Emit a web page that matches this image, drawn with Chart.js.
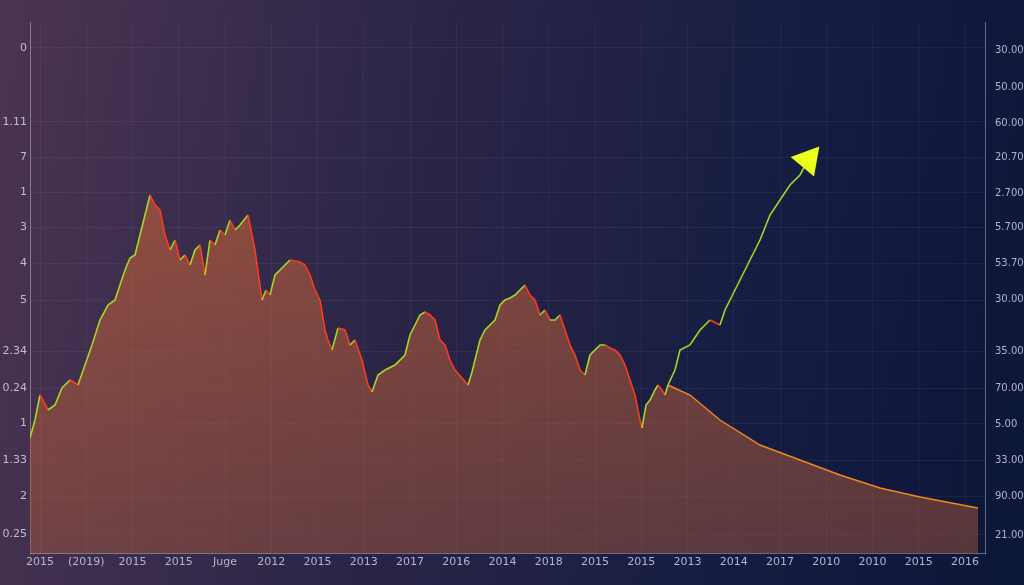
<!DOCTYPE html>
<html>
<head>
<meta charset="utf-8">
<script src="https://cdn.jsdelivr.net/npm/chart.js@4"></script>
<style>
  html, body { margin: 0; padding: 0; }
  body {
    width: 1024px; height: 585px; overflow: hidden;
    background: linear-gradient(100deg, #4b3452 0%, #2a2547 40%, #141c42 75%, #0c1638 100%);
  }
  #wrap { position: relative; width: 1024px; height: 585px; }
</style>
</head>
<body>
<div id="wrap"><canvas id="priceChart"></canvas></div>
<script>
// x tick labels along the bottom
const xLabels = ['2015', '(2019)', '2015', '2015', 'Juge', '2012', '2015', '2013', '2017', '2016', '2014',
  '2018', '2015', '2015', '2013', '2014', '2017', '2010', '2010', '2015', '2016'];
// left and right axis labels (top to bottom) with their values
const leftLabels = ['0', '1.11', '7', '1', '3', '4', '5', '2.34', '0.24', '1', '1.33', '2', '0.25'];
const leftTickValues = [505, 431, 396, 361, 326, 290, 253, 202, 165, 130, 93, 57, 19];
const rightLabels = ['30.00', '50.00', '60.00', '20.70', '2.700', '5.700', '53.70', '30.00', '35.00',
  '70.00', '5.00', '33.00', '90.00', '21.00'];
const rightTickValues = [503, 466, 430, 396, 360, 326, 290, 254, 202, 165, 129, 93, 57, 18];

// history series
const historyDays = [0, 5, 10, 18, 25, 32, 40, 48, 55, 62, 70, 78, 85, 90, 95, 100, 105, 110, 115, 120, 125, 130,
  135, 140, 145, 150, 155, 160, 165, 170, 175, 180, 185, 190, 195, 200, 205, 210, 218, 225, 232, 236, 240, 245,
  250, 260, 270, 275, 280, 285, 290, 295, 298, 302, 308, 315, 320, 325, 332, 338, 342, 348, 355, 365, 375, 380,
  385, 390, 395, 400, 405, 410, 415, 420, 425, 432, 438, 442, 445, 450, 455, 460, 465, 470, 475, 480, 485, 490,
  495, 500, 505, 510, 515, 520, 525, 530, 535, 540, 545, 550, 555, 560, 565, 570, 575, 580, 585, 590, 595, 600,
  605, 610, 612, 616, 620, 625, 628, 632, 635, 638];
const historyPrice = [115, 133, 158, 143, 148, 165, 173, 168, 188, 208, 233, 248, 253, 268, 283, 295, 298, 318,
  338, 358, 348, 343, 318, 303, 313, 293, 298, 288, 303, 308, 278, 313, 308, 323, 318, 333, 323, 328, 338, 303,
  253, 263, 258, 278, 283, 293, 291, 288, 278, 263, 253, 223, 213, 203, 225, 223, 208, 213, 193, 168, 161, 178,
  183, 188, 198, 218, 228, 238, 241, 238, 233, 213, 208, 193, 183, 175, 168, 181, 193, 213, 223, 228, 233, 248,
  253, 255, 258, 263, 268, 258, 253, 238, 243, 233, 233, 238, 223, 208, 198, 183, 178, 198, 203, 208, 208, 205,
  203, 198, 188, 173, 158, 133, 125, 148, 153, 163, 168, 163, 158, 168];

// rally
const rallyDays = [638, 645, 650, 660, 670, 680, 690, 695, 700, 710, 720, 730, 740, 750, 760, 770, 778];
const rallyPrice = [168, 183, 203, 208, 223, 233, 228, 243, 253, 273, 293, 313, 338, 353, 368, 378, 393];

// projection
const projDays = [638, 660, 690, 730, 770, 810, 850, 890, 948];
const projPrice = [168, 158, 133, 108, 93, 78, 65, 56, 45];

const toPoints = (xs, ys) => xs.map((x, i) => ({ x: x, y: ys[i] }));
const upColor = '#a6d62a';
const downColor = '#ff3a1c';
const dirColor = (ctx) => (ctx.p1.parsed.y >= ctx.p0.parsed.y ? upColor : downColor);

const canvas = document.getElementById('priceChart');
canvas.width = 1024; canvas.height = 585;
const ctx = canvas.getContext('2d');

const areaFill = (c) => {
  const area = c.chart.chartArea;
  if (!area) return 'rgba(200,100,50,0.4)';
  const g = c.chart.ctx.createLinearGradient(0, area.top, 0, area.bottom);
  g.addColorStop(0, 'rgba(205,100,55,0.7)');
  g.addColorStop(1, 'rgba(160,85,60,0.5)');
  return g;
};

new Chart(ctx, {
  type: 'line',
  data: {
    datasets: [
      {
        data: toPoints(historyDays, historyPrice),
        borderWidth: 1.6,
        pointRadius: 0,
        fill: 'origin',
        backgroundColor: areaFill,
        segment: { borderColor: dirColor },
        yAxisID: 'y',
      },
      {
        data: toPoints(projDays, projPrice),
        borderColor: '#f08a1c',
        borderWidth: 1.4,
        pointRadius: 0,
        fill: 'origin',
        backgroundColor: areaFill,
        yAxisID: 'y',
      },
      {
        data: toPoints(rallyDays, rallyPrice),
        borderWidth: 1.6,
        segment: { borderColor: dirColor },
        pointRadius: rallyDays.map((_, i) => (i === rallyDays.length - 1 ? 16 : 0)),
        pointStyle: 'triangle',
        pointRotation: 40,
        pointBackgroundColor: '#eaff1a',
        pointBorderColor: '#eaff1a',
        fill: false,
        yAxisID: 'y',
      },
    ],
  },
  options: {
    responsive: false,
    animation: false,
    layout: { padding: { top: 22 } },
    plugins: { legend: { display: false }, tooltip: { enabled: false } },
    scales: {
      x: {
        type: 'linear',
        min: 0,
        max: 955,
        afterBuildTicks: (axis) => { axis.ticks = xLabels.map((_, i) => ({ value: 10 + 46.25 * i })); },
        ticks: {
          color: '#b4b4c8',
          font: { family: 'DejaVu Sans', size: 11 },
          maxRotation: 0,
          autoSkip: false,
          callback: (v, i) => xLabels[i],
        },
        grid: { color: 'rgba(255,255,255,0.05)', drawTicks: false },
        border: { color: 'rgba(255,255,255,0.35)' },
        afterFit: (s) => { s.height = 32; },
      },
      y: {
        type: 'linear',
        position: 'left',
        min: 0,
        max: 531,
        afterBuildTicks: (axis) => { axis.ticks = leftTickValues.map((v) => ({ value: v })); },
        ticks: {
          color: '#c0bcc8',
          font: { family: 'DejaVu Sans', size: 11 },
          autoSkip: false,
          callback: (v, i) => leftLabels[i],
        },
        grid: { color: 'rgba(255,255,255,0.05)', drawTicks: false },
        border: { color: 'rgba(255,255,255,0.35)' },
        afterFit: (s) => { s.width = 30; },
      },
      y2: {
        type: 'linear',
        position: 'right',
        min: 0,
        max: 531,
        afterBuildTicks: (axis) => { axis.ticks = rightTickValues.map((v) => ({ value: v })); },
        ticks: {
          color: '#b0b4c8',
          font: { family: 'DejaVu Sans', size: 10 },
          autoSkip: false,
          padding: 2,
          callback: (v, i) => rightLabels[i],
        },
        grid: { display: false },
        border: { color: 'rgba(255,255,255,0.35)' },
        afterFit: (s) => { s.width = 39; },
      },
    },
  },
});
</script>
</body>
</html>
